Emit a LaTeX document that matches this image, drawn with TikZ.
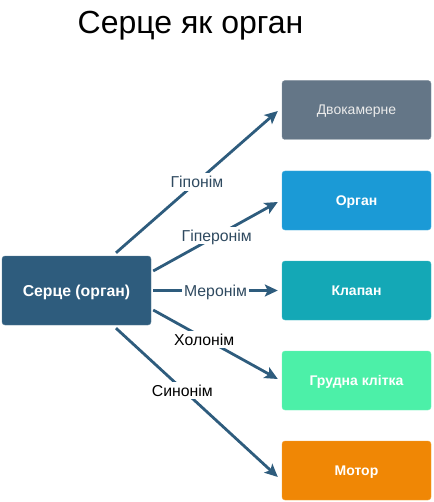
\documentclass[tikz,border=0pt]{standalone}
\usepackage{fontspec}
\setmainfont{Liberation Sans}
\usetikzlibrary{arrows.meta}
\definecolor{cmain}{HTML}{2E5C7D}
\definecolor{cslate}{HTML}{647687}
\definecolor{cblue}{HTML}{1B9AD6}
\definecolor{cteal}{HTML}{14A8B6}
\definecolor{cmint}{HTML}{4CF0A8}
\definecolor{corange}{HTML}{F08705}
\definecolor{cedge}{HTML}{2E5C7D}
\definecolor{clabel}{HTML}{2F4A60}
\begin{document}
\begin{tikzpicture}[x=1pt,y=-1pt,
  box/.style={rounded corners=3pt,minimum width=149pt,minimum height=59pt,inner sep=0pt,text=white,font=\fontsize{14}{16}\selectfont\bfseries,text height=10pt,text depth=0pt},
  conn/.style={draw=cedge,line width=2.8pt,-{Stealth[length=13pt,width=12pt,inset=3pt]}},
  lab/.style={fill=white,inner xsep=2pt,inner ysep=3pt,font=\fontsize{15.8}{18}\selectfont,text height=11.3pt,text depth=0pt}
]
\useasboundingbox (0,0) rectangle (433,502);
\node[text height=23pt,text depth=0pt,inner sep=0pt] (title) at (190.5,22) {\fontsize{32}{36}\selectfont Серце як орган};
\node[box,fill=cmain,draw=cmain!80!white,minimum width=149pt,minimum height=69pt,font=\fontsize{15.8}{18}\selectfont\bfseries,text height=11.3pt] (c) at (76.5,290.5) {Серце (орган)};
\node[box,fill=cslate,draw=cslate!80!white,font=\fontsize{14}{16}\selectfont,text=white!92!black] (d1) at (356.5,110) {Двокамерне};
\node[box,fill=cblue,draw=cblue!80!white] (d2) at (356.5,200.5) {Орган};
\node[box,fill=cteal,draw=cteal!80!white] (d3) at (356.5,290.5) {Клапан};
\node[box,fill=cmint,draw=cmint!80!white] (d4) at (356.5,380.5) {Грудна клітка};
\node[box,fill=corange,draw=corange!80!white] (d5) at (356.5,470.5) {Мотор};
\draw[conn] ([xshift=39.5pt,yshift=3pt]c.north) -- node[lab,text=clabel,pos=0.5] {Гіпонім} ([xshift=-4pt,yshift=-1pt]d1.west);
\draw[conn] ([xshift=2pt,yshift=19.5pt]c.east) -- node[lab,text=clabel,pos=0.51] {Гіперонім} ([xshift=-4pt,yshift=-1.5pt]d2.west);
\draw[conn] ([xshift=2pt]c.east) -- node[lab,text=clabel,pos=0.5] {Меронім} ([xshift=-4pt]d3.west);
\draw[conn] ([xshift=2pt,yshift=-19.5pt]c.east) -- node[lab,text=black,pos=0.41,yshift=-1.5pt] {Холонім} ([xshift=-4pt,yshift=1.5pt]d4.west);
\draw[conn] ([xshift=39.5pt,yshift=-3pt]c.south) -- node[lab,text=black,pos=0.41,yshift=-1.5pt] {Синонім} ([xshift=-4pt,yshift=-6.5pt]d5.west);
\end{tikzpicture}
\end{document}
